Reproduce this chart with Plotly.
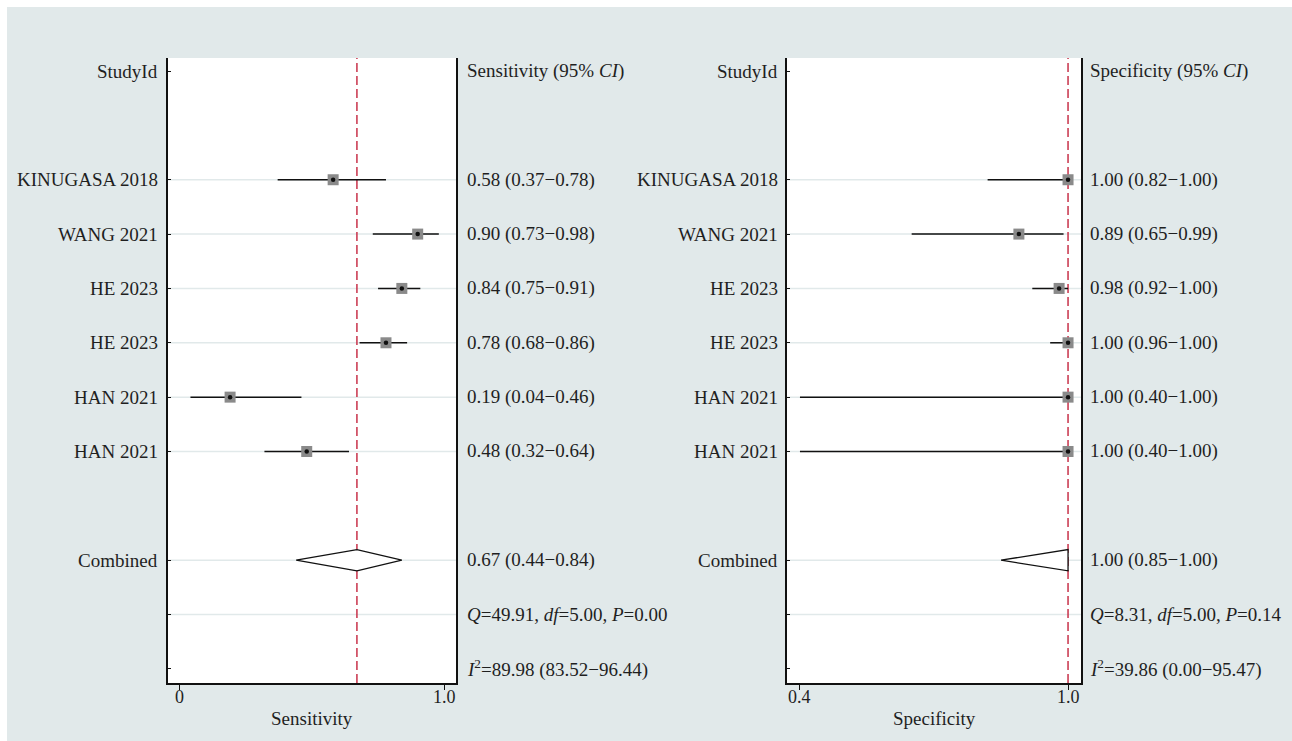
import plotly.graph_objects as go

# ---- study-level estimates ----
studies = ["KINUGASA 2018", "WANG 2021", "HE 2023", "HE 2023", "HAN 2021", "HAN 2021"]

sens = [0.58, 0.90, 0.84, 0.78, 0.19, 0.48]
sens_lo = [0.37, 0.73, 0.75, 0.68, 0.04, 0.32]
sens_hi = [0.78, 0.98, 0.91, 0.86, 0.46, 0.64]

spec = [1.00, 0.89, 0.98, 1.00, 1.00, 1.00]
spec_lo = [0.82, 0.65, 0.92, 0.96, 0.40, 0.40]
spec_hi = [1.00, 0.99, 1.00, 1.00, 1.00, 1.00]

# ---- pooled estimates and heterogeneity ----
sens_pool = [0.67, 0.44, 0.84]
spec_pool = [1.00, 0.85, 1.00]
sens_het = {"Q": 49.91, "df": 5.00, "P": 0.00, "I2": 89.98, "I2_lo": 83.52, "I2_hi": 96.44}
spec_het = {"Q": 8.31, "df": 5.00, "P": 0.14, "I2": 39.86, "I2_lo": 0.00, "I2_hi": 95.47}

# axis tick labels
sens_ticks = [0, 1.0]
sens_ticktext = ["0", "1.0"]
spec_ticks = [0.4, 1.0]
spec_ticktext = ["0.4", "1.0"]

# row layout (0 = header row, top to bottom)
study_rows = [2, 3, 4, 5, 6, 7]
combined_row = 9
q_row = 10
i2_row = 11

W, H = 1292, 741
BG = "#e1e9ea"
TXT = "#1f1f1f"
FONT = "Liberation Serif, Times New Roman, serif"
FS = 19

panels = [
    dict(name="Sensitivity", est=sens, lo=sens_lo, hi=sens_hi, pool=sens_pool, het=sens_het,
         xr=[-0.045, 1.045], ticks=sens_ticks, ticktext=sens_ticktext,
         left=168, right=456, lab_right=160, txt_left=465),
    dict(name="Specificity", est=spec, lo=spec_lo, hi=spec_hi, pool=spec_pool, het=spec_het,
         xr=[0.371, 1.029], ticks=spec_ticks, ticktext=spec_ticktext,
         left=787, right=1081, lab_right=780, txt_left=1088),
]

top_px, bot_px = 58, 683
y_dom = [1 - bot_px / H, 1 - top_px / H]
y_range = [-11.26, 0.24]

fig = go.Figure()
shapes = []
annotations = []


def fmt(v, lo, hi):
    return f"{v:.2f} ({lo:.2f}\u2212{hi:.2f})"


for i, p in enumerate(panels):
    sfx = "" if i == 0 else str(i + 1)
    xa, ya = "x" + sfx, "y" + sfx
    ys = [-r for r in study_rows]

    # horizontal guide lines at study / summary rows
    for r in study_rows + [combined_row, q_row]:
        shapes.append(dict(type="line", xref=f"{xa} domain", yref=ya, x0=0, x1=1, y0=-r, y1=-r,
                           line=dict(color=BG, width=1.5), layer="below"))
    # pooled estimate reference line
    shapes.append(dict(type="line", xref=xa, yref=f"{ya} domain", x0=p["pool"][0], x1=p["pool"][0],
                       y0=0, y1=1, line=dict(color="#c8324a", width=1.5, dash="9px,4px"),
                       layer="below"))

    # confidence intervals + grey boxes
    fig.add_trace(go.Scatter(
        x=p["est"], y=ys, mode="markers", xaxis=xa, yaxis=ya, showlegend=False,
        marker=dict(symbol="square", size=11, color="#8a8a8a", line=dict(width=0)),
        error_x=dict(type="data", symmetric=False,
                     array=[h - e for h, e in zip(p["hi"], p["est"])],
                     arrayminus=[e - l for e, l in zip(p["est"], p["lo"])],
                     width=0, thickness=1.5, color="#111111"),
    ))
    # centre dots
    fig.add_trace(go.Scatter(
        x=p["est"], y=ys, mode="markers", xaxis=xa, yaxis=ya, showlegend=False,
        marker=dict(symbol="circle", size=4.5, color="#111111"),
    ))
    # pooled diamond
    est, lo, hi = p["pool"]
    h = 0.195
    yc = -combined_row
    fig.add_trace(go.Scatter(
        x=[lo, est, hi, est, lo], y=[yc, yc + h, yc, yc - h, yc], mode="lines",
        xaxis=xa, yaxis=ya, showlegend=False, fill="toself", fillcolor="white",
        line=dict(color="#111111", width=1.3),
    ))

    # axes
    fig.layout[("xaxis" + sfx)] = dict(
        domain=[p["left"] / W, p["right"] / W], range=p["xr"], anchor=ya,
        showgrid=False, zeroline=False, showline=True, linecolor="#111111", linewidth=1.5,
        ticks="outside", ticklen=5, tickwidth=1.3, tickcolor="#111111",
        tickvals=p["ticks"], showticklabels=False, fixedrange=True,
    )
    fig.layout[("yaxis" + sfx)] = dict(
        domain=y_dom, range=y_range, anchor=xa,
        showgrid=False, zeroline=False, showline=True, mirror=True,
        linecolor="#111111", linewidth=1.5,
        ticks="inside", ticklen=3, tickwidth=1, tickcolor="#111111",
        tickvals=[0] + [-r for r in study_rows] + [-combined_row, -q_row, -i2_row],
        showticklabels=False, fixedrange=True,
    )

    # x tick labels, set just under the tick marks
    for tv, tt in zip(p["ticks"], p["ticktext"]):
        annotations.append(dict(x=tv, xref=xa, y=1 - 697 / H, yref="paper", text=tt,
                                xanchor="center", yanchor="middle", showarrow=False,
                                font=dict(family=FONT, size=18, color=TXT)))

    # left-hand study labels
    left_labels = [(0, "StudyId")] + list(zip(study_rows, studies)) + [(combined_row, "Combined")]
    for r, t in left_labels:
        annotations.append(dict(x=p["lab_right"] / W, xref="paper", y=-r, yref=ya, text=t,
                                xanchor="right", yanchor="middle", showarrow=False,
                                font=dict(family=FONT, size=FS, color=TXT)))

    # right-hand estimate labels
    het = p["het"]
    right_labels = [(0, f"{p['name']} (95% <i>CI</i>)")]
    right_labels += [(r, fmt(e, l, u)) for r, e, l, u in zip(study_rows, p["est"], p["lo"], p["hi"])]
    right_labels += [
        (combined_row, fmt(*p["pool"])),
        (q_row, f"<i>Q</i>={het['Q']:.2f}, <i>df</i>={het['df']:.2f}, <i>P</i>={het['P']:.2f}"),
        (i2_row, f"<i>I</i><sup>2</sup>={het['I2']:.2f} ({het['I2_lo']:.2f}\u2212{het['I2_hi']:.2f})"),
    ]
    for r, t in right_labels:
        annotations.append(dict(x=p["txt_left"] / W, xref="paper", y=-r, yref=ya, text=t,
                                xanchor="left", yanchor="middle", showarrow=False,
                                font=dict(family=FONT, size=FS, color=TXT)))

    # axis title
    annotations.append(dict(x=(p["left"] + p["right"]) / 2 / W, xref="paper", y=1 - 718 / H,
                            yref="paper", text=p["name"], xanchor="center", yanchor="middle",
                            showarrow=False, font=dict(family=FONT, size=FS, color=TXT)))

# white page border around the tinted background
shapes.append(dict(type="rect", xref="paper", yref="paper", x0=0, x1=1, y0=1 - 7 / H, y1=1,
                   fillcolor="white", line=dict(width=0), layer="below"))
shapes.append(dict(type="rect", xref="paper", yref="paper", x0=0, x1=7 / W, y0=0, y1=1,
                   fillcolor="white", line=dict(width=0), layer="below"))

fig.update_layout(
    width=W, height=H, margin=dict(l=0, r=0, t=0, b=0),
    paper_bgcolor=BG, plot_bgcolor="white",
    shapes=shapes, annotations=annotations, showlegend=False,
    font=dict(family=FONT, size=FS, color=TXT),
)

fig.write_html("out.html", config={"displayModeBar": False})
